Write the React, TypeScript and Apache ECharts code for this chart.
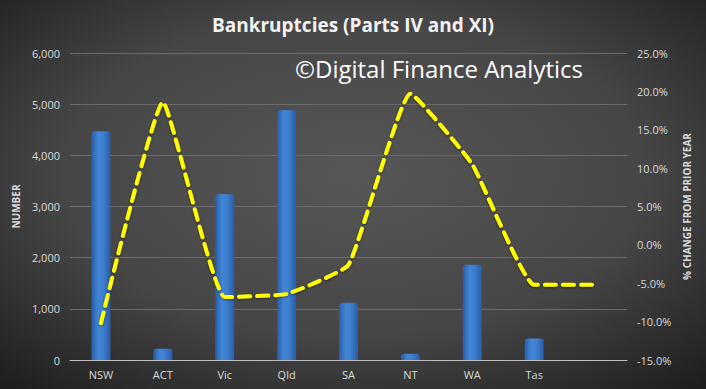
import React, { useEffect, useRef } from "react";
import * as echarts from "echarts";

const categories = ["NSW", "ACT", "Vic", "Qld", "SA", "NT", "WA", "Tas", ""];
const bankruptcies = [4470, 220, 3240, 4880, 1120, 120, 1860, 420, null];
const pctChange = [-10.2, 18.6, -6.8, -6.4, -2.6, 19.7, 10.5, -5.2, -5.2];
const leftTicks = { min: 0, max: 6000, interval: 1000 };
const rightTicks = { min: -15, max: 25, interval: 5 };

export default function App() {
  const ref = useRef<HTMLDivElement>(null);
  useEffect(() => {
    document.body.style.margin = "0";
    if (!ref.current) return;
    const chart = echarts.init(ref.current, null, { renderer: "svg" });
    const font = "'Open Sans', 'Liberation Sans', sans-serif";
    chart.setOption({
      animation: false,
      backgroundColor: {
        type: "radial",
        x: 0.5,
        y: 0.45,
        r: 0.75,
        colorStops: [
          { offset: 0, color: "#575757" },
          { offset: 0.55, color: "#464646" },
          { offset: 1, color: "#1c1c1c" },
        ],
      },
      title: {
        text: "Bankruptcies (Parts IV and XI)",
        left: "center",
        top: 10,
        textStyle: {
          color: "#f2f2f2",
          fontSize: 19,
          fontWeight: "bold",
          fontFamily: font,
        },
      },
      graphic: [
        {
          type: "text",
          left: 295,
          top: 56,
          style: {
            text: "©Digital Finance Analytics",
            fill: "#ffffff",
            font: "24px 'Open Sans', sans-serif",
          },
        },
      ],
      grid: { left: 70, right: 79, top: 53, bottom: 29 },
      xAxis: {
        type: "category",
        data: categories,
        axisLine: { lineStyle: { color: "#bfbfbf", width: 1 } },
        axisTick: { show: false },
        axisLabel: { color: "#d9d9d9", fontSize: 11, fontFamily: font, margin: 9 },
      },
      yAxis: [
        {
          type: "value",
          ...leftTicks,
          name: "NUMBER",
          nameLocation: "middle",
          nameRotate: 90,
          nameGap: 44,
          nameTextStyle: { color: "#d9d9d9", fontSize: 10, fontWeight: "bold", fontFamily: font },
          axisLine: { show: false },
          axisTick: { show: false },
          axisLabel: {
            color: "#d9d9d9",
            fontSize: 11,
            fontFamily: font,
            margin: 10,
            formatter: (v: number) => v.toLocaleString("en-US"),
          },
          splitLine: { lineStyle: { color: "#6b6b6b", width: 1 } },
        },
        {
          type: "value",
          ...rightTicks,
          name: "% CHANGE FROM PRIOR YEAR",
          nameLocation: "middle",
          nameRotate: 90,
          nameGap: 54,
          nameTextStyle: { color: "#d9d9d9", fontSize: 10, fontWeight: "bold", fontFamily: font },
          axisLine: { show: false },
          axisTick: { show: false },
          axisLabel: {
            color: "#d9d9d9",
            fontSize: 11,
            fontFamily: font,
            margin: 10,
            formatter: (v: number) => v.toFixed(1) + "%",
          },
          splitLine: { show: false },
        },
      ],
      series: [
        {
          type: "bar",
          yAxisIndex: 0,
          data: bankruptcies,
          barWidth: 19,
          itemStyle: {
            color: {
              type: "linear",
              x: 0,
              y: 0,
              x2: 1,
              y2: 0,
              colorStops: [
                { offset: 0, color: "#2a5ca6" },
                { offset: 0.35, color: "#4185d6" },
                { offset: 0.6, color: "#3e80d0" },
                { offset: 1, color: "#2a5ca6" },
              ],
            },
            borderRadius: [3, 3, 0, 0],
          },
        },
        {
          type: "line",
          yAxisIndex: 1,
          data: pctChange,
          smooth: 0.12,
          symbol: "none",
          lineStyle: {
            color: "#ffff00",
            width: 4,
            type: [11, 7],
            cap: "round",
            shadowColor: "rgba(0,0,0,0.5)",
            shadowBlur: 2,
            shadowOffsetY: 1,
          },
        },
      ],
    });
    return () => chart.dispose();
  }, []);
  return <div ref={ref} style={{ width: 706, height: 389 }} />;
}
